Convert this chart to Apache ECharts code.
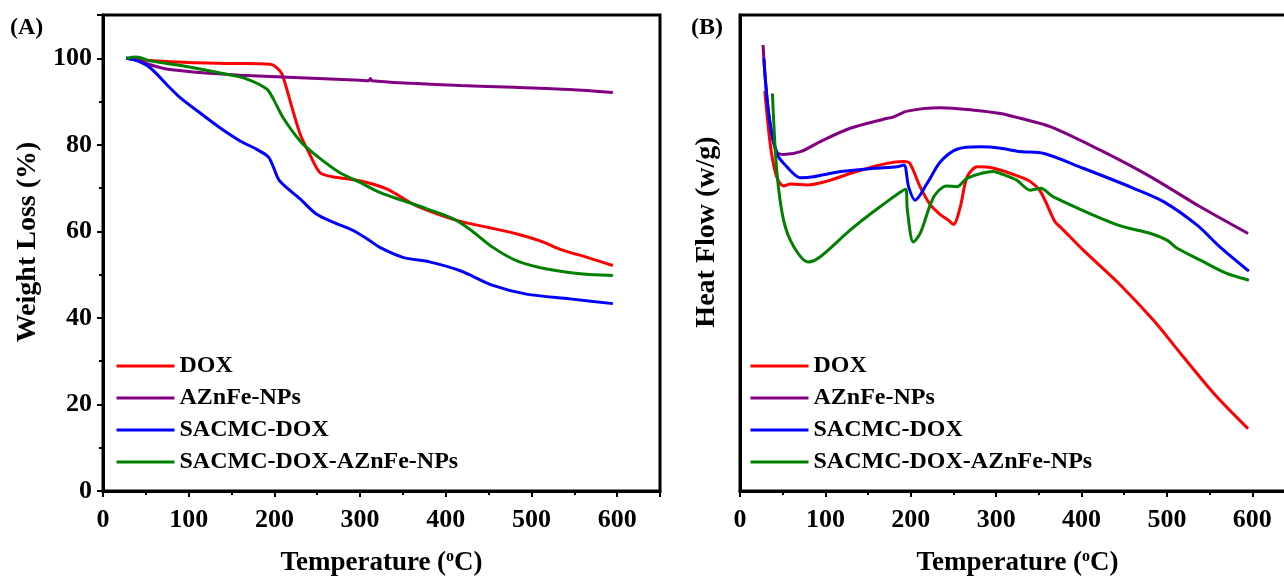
<!DOCTYPE html>
<html>
<head>
<meta charset="utf-8">
<script src="https://cdn.jsdelivr.net/npm/echarts@6/dist/echarts.min.js"></script>
<style>
  html, body { margin: 0; padding: 0; background: #fff; }
  #chart { width: 1284px; height: 578px; }
</style>
</head>
<body>
<div id="chart"></div>
<script>
const names = ['DOX', 'AZnFe-NPs', 'SACMC-DOX', 'SACMC-DOX-AZnFe-NPs']
const colors = ['#ff0000', '#800080', '#0000ff', '#008000']
const xTicks = [0, 100, 200, 300, 400, 500, 600]
const yTicksA = [0, 20, 40, 60, 80, 100]

// (A) TGA weight loss, [temperature, %]
const doxTga = [[27, 100], [60, 99.4], [100, 99], [150, 98.8], [195, 98.6], [203, 97.8], [209, 96.3], [220, 89], [230, 82.5], [241, 77.9], [253, 73.6], [268, 72.6], [290, 72], [304, 71.5], [331, 69.8], [362, 66.3], [385, 64.4], [417, 62.3], [450, 60.9], [483, 59.4], [510, 57.8], [537, 55.6], [565, 54], [595, 52.1]]
const aznTga = [[27, 100], [40, 99.5], [55, 98.5], [74, 97.5], [113, 96.7], [160, 96.1], [230, 95.5], [300, 94.9], [310, 94.8], [312, 95.3], [314, 94.8], [360, 94.2], [417, 93.7], [480, 93.3], [545, 92.8], [595, 92.1]]
const sacTga = [[27, 100], [39, 99.5], [55, 97.8], [74, 94], [90, 90.9], [113, 87.4], [136, 84], [160, 80.9], [179, 79], [193, 77.2], [199, 74.8], [206, 71.7], [230, 67.5], [249, 64], [269, 62.1], [292, 60.2], [311, 57.9], [323, 56.3], [350, 54], [382, 52.9], [417, 50.9], [455, 47.5], [494, 45.5], [545, 44.4], [595, 43.3]]
const sacAznTga = [[27, 100], [39, 100.3], [55, 99.4], [94, 98.2], [144, 96.3], [168, 95.2], [191, 92.9], [199, 90.5], [210, 86.3], [230, 80.9], [249, 77.5], [276, 73.6], [300, 71.3], [323, 69], [350, 67.1], [378, 65.2], [409, 62.9], [428, 60.5], [455, 56.3], [483, 53.2], [518, 51.3], [557, 50.2], [595, 49.8]]

// (B) DSC heat flow, arbitrary units
const doxDsc = [[29, 84], [34, 75], [37.6, 70.2], [43, 66], [51, 64.1], [59, 64.5], [79, 64.3], [102, 65.1], [129, 66.7], [164, 68.5], [192, 69.2], [199, 68.8], [211, 63.9], [223, 60.1], [235, 58], [244, 56.9], [250, 56], [258, 59.7], [266, 66], [278, 68.1], [297, 67.8], [328, 66], [340, 65], [352, 62.9], [369, 56.5], [375, 55.5], [402, 50.6], [442, 43.9], [484, 35.9], [516, 28.9], [555, 20.5], [595, 13.1]]
const aznDsc = [[27, 93.7], [29.7, 86.3], [35.6, 76.5], [43, 71.3], [51, 70.7], [71, 71.3], [94, 73.4], [129, 76.2], [168, 78.1], [180, 78.6], [196, 79.8], [235, 80.5], [274, 80], [305, 79.3], [328, 78.3], [364, 76.5], [422, 71.6], [481, 66], [539, 59.7], [595, 54.1]]
const sacDsc = [[28, 90.9], [33.6, 79.3], [43, 70.9], [55, 68.1], [71, 65.8], [86, 66], [118, 67.1], [157, 67.8], [184, 68.1], [192, 68.5], [197.5, 63.9], [205, 61.1], [219, 64.6], [235, 69.2], [254, 71.8], [282, 72.3], [305, 72], [328, 71.3], [356, 70.9], [402, 67.8], [461, 63.6], [496, 60.8], [535, 55.9], [562, 51.3], [596, 46.2]]
const sacAznDsc = [[38, 83.5], [43, 67.4], [51, 56.9], [63, 51.3], [80, 48.1], [94, 49.2], [129, 54.8], [164, 59.7], [194, 63.4], [196, 59], [203, 52.3], [211, 54.1], [227, 61.8], [242, 64.1], [254, 63.9], [266, 65.7], [297, 67.1], [305, 66.7], [324, 65.3], [340, 63.2], [346, 63.4], [352, 63.6], [367, 61.8], [442, 55.9], [481, 54.1], [500, 52.7], [512, 51], [539, 48.5], [570, 45.7], [596, 44.3]]

const font = 'Liberation Serif'
const bold = { fontFamily: font, fontWeight: 'bold', color: '#000' }
const gText = (text, size) => ({ text, fill: '#000', fontFamily: font, fontWeight: 'bold', fontSize: size })

const makeX = gridIndex => ({
  type: 'value', gridIndex, min: 0, max: 650, interval: 100,
  axisLine: { lineStyle: { color: '#000', width: 3 } },
  axisTick: { length: 6, lineStyle: { color: '#000', width: 2 } },
  minorTick: { show: true, splitNumber: 2, length: 4, lineStyle: { color: '#000', width: 2 } },
  splitLine: { show: false },
  axisLabel: Object.assign({ fontSize: 26, margin: 16, showMaxLabel: false,
    formatter: v => xTicks.includes(v) ? String(v) : '' }, bold),
  name: 'Temperature ({s|o}C)', nameLocation: 'middle', nameGap: 58,
  nameTextStyle: Object.assign({ fontSize: 27, rich: { s: Object.assign({ fontSize: 16, verticalAlign: 'top', padding: [0, 0, 12, 0] }, bold) } }, bold)
})

const series = []
const addSet = (sets, idx) => sets.forEach((d, i) => series.push({
  name: names[i], type: 'line', data: d, xAxisIndex: idx, yAxisIndex: idx,
  symbol: 'none', smooth: 0.3, lineStyle: { width: 3, color: colors[i] }, itemStyle: { color: colors[i] }
}))
addSet([doxTga, aznTga, sacTga, sacAznTga], 0)
addSet([doxDsc, aznDsc, sacDsc, sacAznDsc], 1)

const legendBase = {
  data: names, orient: 'vertical', top: 354, padding: 0, itemWidth: 58, itemHeight: 4, itemGap: 8,
  itemStyle: { opacity: 0 }, lineStyle: { width: 3 },
  textStyle: Object.assign({ fontSize: 24, lineHeight: 24 }, bold)
}

const chart = echarts.init(document.getElementById('chart'))
chart.setOption({
  backgroundColor: '#fff',
  animation: false,
  grid: [
    { left: 103, top: 15, right: 624, bottom: 87, show: true, borderColor: '#000', borderWidth: 3, outerBoundsMode: 'none' },
    { left: 740, top: 15, right: -11, bottom: 87, show: true, borderColor: '#000', borderWidth: 3, outerBoundsMode: 'none' }
  ],
  xAxis: [makeX(0), makeX(1)],
  yAxis: [
    {
      type: 'value', gridIndex: 0, min: 0, max: 110, interval: 20,
      axisLine: { show: true, lineStyle: { color: '#000', width: 3 } },
      axisTick: { show: true, length: 6, lineStyle: { color: '#000', width: 2 } },
      minorTick: { show: true, splitNumber: 2, length: 4, lineStyle: { color: '#000', width: 2 } },
      splitLine: { show: false },
      axisLabel: Object.assign({ fontSize: 26, margin: 11, showMaxLabel: false,
        formatter: v => yTicksA.includes(v) ? String(v) : '' }, bold)
    },
    {
      type: 'value', gridIndex: 1, min: 0, max: 100,
      axisLine: { show: true, lineStyle: { color: '#000', width: 3 } },
      axisTick: { show: false }, axisLabel: { show: false }, splitLine: { show: false }
    }
  ],
  legend: [
    Object.assign({ left: 115 }, legendBase),
    Object.assign({ left: 749 }, legendBase)
  ],
  graphic: [
    { type: 'text', x: 10, y: 16, style: gText('(A)', 24) },
    { type: 'text', x: 691, y: 16, style: gText('(B)', 24) },
    { type: 'text', x: 28, y: 242, rotation: Math.PI / 2, style: Object.assign(gText('Weight Loss (%)', 28), { align: 'center', verticalAlign: 'middle' }) },
    { type: 'text', x: 707, y: 232, rotation: Math.PI / 2, style: Object.assign(gText('Heat Flow (w/g)', 28), { align: 'center', verticalAlign: 'middle' }) }
  ],
  series
})
</script>
</body>
</html>
